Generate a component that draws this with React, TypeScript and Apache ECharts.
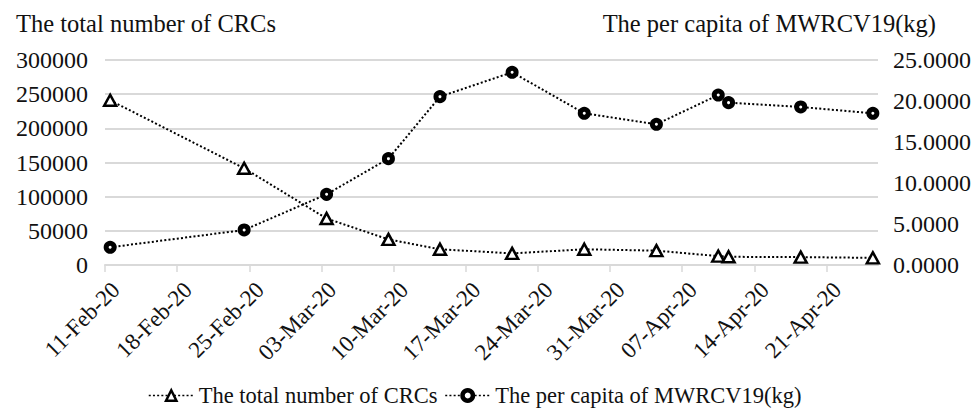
import { useEffect, useRef } from 'react';
import * as echarts from 'echarts';

const dates = ['2020-02-11', '2020-02-24', '2020-03-03', '2020-03-09', '2020-03-14', '2020-03-21', '2020-03-28', '2020-04-04', '2020-04-10', '2020-04-11', '2020-04-18', '2020-04-25'];
const totalCRCs = [241000, 141500, 68000, 37500, 23000, 17000, 23000, 21000, 13000, 12000, 11500, 10500];
const perCapita = [2.16, 4.27, 8.62, 12.97, 20.53, 23.5, 18.5, 17.16, 20.73, 19.8, 19.27, 18.5];

const tickDates = ['2020-02-11', '2020-02-18', '2020-02-25', '2020-03-03', '2020-03-10', '2020-03-17', '2020-03-24', '2020-03-31', '2020-04-07', '2020-04-14', '2020-04-21'];
const tickLabels = ['11-Feb-20', '18-Feb-20', '25-Feb-20', '03-Mar-20', '10-Mar-20', '17-Mar-20', '24-Mar-20', '31-Mar-20', '07-Apr-20', '14-Apr-20', '21-Apr-20'];
const axisStart = '2020-02-11';
const axisEnd = '2020-04-26';

const leftTitle = 'The total number of CRCs';
const rightTitle = 'The per capita of MWRCV19(kg)';

const DAY = 86400000;
const dayOf = (d: string) => Math.round((Date.parse(d) - Date.parse(axisStart)) / DAY);

const FONT = 'Liberation Serif';
const LABEL_SHIFT = 1.05; // rotated labels sit slightly right of their tick, as in the reference

export default function App() {
  const ref = useRef<HTMLDivElement>(null);
  useEffect(() => {
    if (!ref.current) return;
    const chart = echarts.init(ref.current, undefined, { renderer: 'svg' });
    const tickDays = tickDates.map(dayOf);
    const labelDays = tickDays.map((d) => d + LABEL_SHIFT);
    const lineStyle = { color: '#000', width: 2, type: [2, 2.2] as number[] };
    chart.setOption({
      animation: false,
      backgroundColor: '#fff',
      textStyle: { fontFamily: FONT, color: '#111' },
      title: [
        { text: leftTitle, left: 11, top: 6, textStyle: { fontFamily: FONT, fontSize: 24.5, fontWeight: 'normal', color: '#111' } },
        { text: rightTitle, right: 39, top: 6, textStyle: { fontFamily: FONT, fontSize: 24.5, fontWeight: 'normal', color: '#111' } },
      ],
      grid: { left: 105, right: 102, top: 60, bottom: 148 },
      legend: {
        left: 143,
        bottom: 1,
        itemWidth: 45,
        itemHeight: 13,
        itemGap: 7,
        lineStyle: { width: 1.5 },
        textStyle: { fontFamily: FONT, fontSize: 22.5, color: '#111' },
        data: [
          { name: leftTitle, itemStyle: { borderWidth: 2.5 } },
          { name: rightTitle, itemStyle: { borderWidth: 4.5 } },
        ],
      },
      xAxis: {
        type: 'value',
        min: 0,
        max: dayOf(axisEnd),
        interval: 7,
        axisLine: { show: true, lineStyle: { color: '#d9d9d9', width: 2 } },
        axisTick: { show: true, length: 7, customValues: tickDays, lineStyle: { color: '#d9d9d9', width: 1.5 } },
        axisLabel: {
          customValues: labelDays,
          rotate: 45,
          margin: 21,
          fontFamily: FONT,
          fontSize: 23,
          color: '#111',
          formatter: (v: number) => {
            const i = tickDays.indexOf(Math.round(v - LABEL_SHIFT));
            return i >= 0 ? tickLabels[i] : '';
          },
        },
        splitLine: { show: false },
      },
      yAxis: [
        {
          type: 'value',
          min: 0,
          max: 300000,
          interval: 50000,
          axisLine: { show: false },
          axisTick: { show: false },
          axisLabel: { margin: 17, fontFamily: FONT, fontSize: 24, color: '#111', formatter: (v: number) => String(v) },
          splitLine: { show: true, lineStyle: { color: '#d9d9d9', width: 2 } },
        },
        {
          type: 'value',
          min: 0,
          max: 25,
          interval: 5,
          axisLine: { show: false },
          axisTick: { show: false },
          axisLabel: { margin: 15, fontFamily: FONT, fontSize: 24, color: '#111', formatter: (v: number) => v.toFixed(4) },
          splitLine: { show: false },
        },
      ],
      series: [
        {
          name: leftTitle,
          type: 'line',
          yAxisIndex: 0,
          data: dates.map((d, i) => [dayOf(d) + 0.5, totalCRCs[i]]),
          symbol: 'triangle',
          symbolSize: [12, 11],
          itemStyle: { color: '#fff', borderColor: '#000', borderWidth: 2.5 },
          lineStyle,
          z: 3,
        },
        {
          name: rightTitle,
          type: 'line',
          yAxisIndex: 1,
          data: dates.map((d, i) => [dayOf(d) + 0.5, perCapita[i]]),
          symbol: 'circle',
          symbolSize: 8,
          itemStyle: { color: '#fff', borderColor: '#000', borderWidth: 5 },
          lineStyle,
          z: 2,
        },
      ],
    });
    return () => chart.dispose();
  }, []);
  return <div ref={ref} style={{ position: 'fixed', left: 0, top: 0, width: 980, height: 413 }} />;
}
